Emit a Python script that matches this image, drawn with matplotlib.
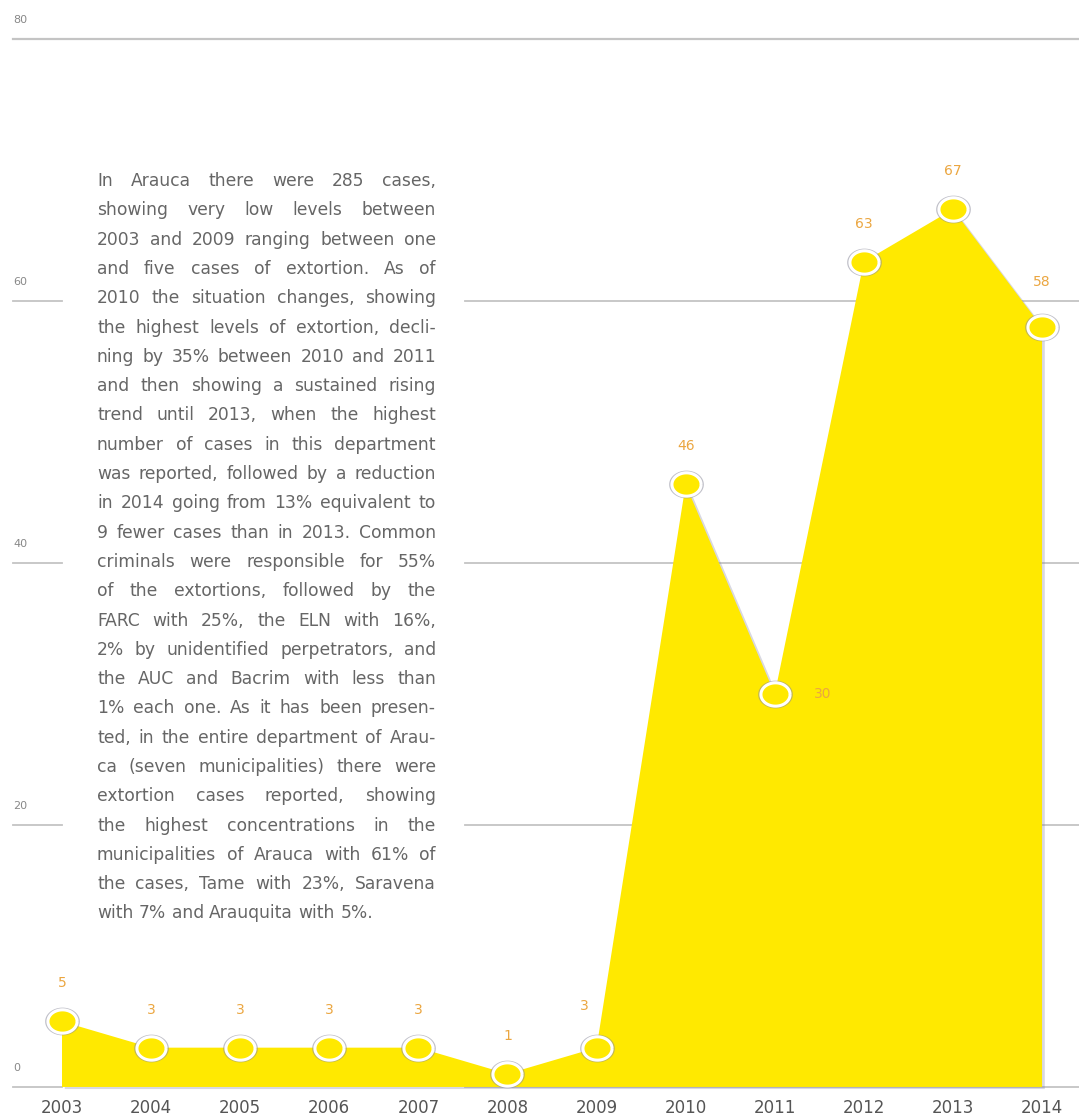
import numpy as np
import matplotlib
matplotlib.use("Agg")
import matplotlib.pyplot as plt
import matplotlib.patheffects as pe
from matplotlib.path import Path
from matplotlib.font_manager import FontProperties

# ---------------- data ----------------
years = [2003, 2004, 2005, 2006, 2007, 2008, 2009, 2010, 2011, 2012, 2013, 2014]
cases = [5, 3, 3, 3, 3, 1, 3, 46, 30, 63, 67, 58]
y_ticks = [0, 20, 40, 60, 80]

paragraph = [
    "In Arauca there were 285 cases,",
    "showing very low levels between",
    "2003 and 2009 ranging between one",
    "and five cases of extortion.  As of",
    "2010 the situation changes, showing",
    "the highest levels of extortion, decli-",
    "ning by 35% between 2010 and 2011",
    "and then showing a sustained rising",
    "trend until 2013, when the highest",
    "number of cases in this department",
    "was reported, followed by a reduction",
    "in 2014 going from 13% equivalent to",
    "9 fewer cases than in 2013. Common",
    "criminals were responsible for 55%",
    "of the extortions, followed by the",
    "FARC with 25%, the ELN with 16%,",
    "2% by unidentified perpetrators, and",
    "the AUC and Bacrim with less than",
    "1% each one.  As it has been presen-",
    "ted, in the entire department of Arau-",
    "ca (seven municipalities) there were",
    "extortion cases reported, showing",
    "the highest concentrations in the",
    "municipalities of Arauca with 61% of",
    "the cases, Tame with 23%, Saravena",
    "with 7% and Arauquita with 5%.",
]

# label offsets in pixels (dx, dy) -- default is straight above
label_offsets = {2009: (-12, 42), 2011: (48, 0), 2014: (0, 45)}

# ---------------- figure ----------------
W, H = 1079, 1118
fig = plt.figure(figsize=(W / 100, H / 100), dpi=100)
ax = fig.add_axes([0, 0, 1, 1])
ax.set_xlim(2002.304, 2014.415)
ax.set_ylim(-2.37, 82.98)
ax.axis("off")

YELLOW = "#ffe900"
GRID = "#c4c4c4"
LABEL = "#eba640"
GREY = "#666666"

# gridlines: broken around the paragraph, except the top one
for v in y_ticks:
    if v == 80:
        ax.plot([2002.45, 2014.415], [v, v], color=GRID, lw=1.6, zorder=1)
    else:
        ax.plot([2002.45, 2003.0], [v, v], color=GRID, lw=1.3, zorder=1)
        ax.plot([2007.52, 2014.415], [v, v], color=GRID, lw=1.3, zorder=1)
    ax.text(2002.45, v + 1.45, str(v), fontsize=8, color="#888888",
            ha="left", va="center")

# filled area
xs = [years[0]] + years + [years[-1]]
ys = [0] + cases + [0]
ax.fill(xs, ys, color=YELLOW, zorder=2, lw=0,
        path_effects=[pe.SimplePatchShadow(offset=(2, -1.5), shadow_rgbFace="#8080a0", alpha=0.3),
                      pe.Normal()])

# elliptic marker
t = np.linspace(0, 2 * np.pi, 60)
ell = Path(np.column_stack([np.cos(t), 0.8 * np.sin(t)]))

ax.plot(years, cases, ls="none", marker=ell, markersize=25, markerfacecolor="#8c8c9c",
        markeredgecolor="none", alpha=0.55, zorder=3)
ax.plot(years, cases, ls="none", marker=ell, markersize=21, markerfacecolor=YELLOW,
        markeredgecolor="white", markeredgewidth=2.2, zorder=4)

# value labels
for yr, val in zip(years, cases):
    dx, dy = label_offsets.get(yr, (0, 38))
    ax.annotate(str(val), (yr, val), xytext=(dx * 0.72, dy * 0.72), textcoords="offset points",
                ha="center", va="center", fontsize=10, color=LABEL, zorder=5)

# year labels
for yr in years:
    ax.text(yr, -1.6, str(yr), ha="center", va="center", fontsize=12, color="#555555")

# justified paragraph
fp = FontProperties(family="DejaVu Sans", size=12.3)
renderer = fig.canvas.get_renderer()
left, right = 97, 436
top, step = 181, 29.3
space_w = renderer.get_text_width_height_descent(" ", fp, ismath=False)[0]

for i, line in enumerate(paragraph):
    y = top + i * step
    words = line.split()
    widths = [renderer.get_text_width_height_descent(w, fp, ismath=False)[0] for w in words]
    if i == len(paragraph) - 1 or len(words) == 1:
        gap = space_w
    else:
        gap = (right - left - sum(widths)) / (len(words) - 1)
    x = left
    for w, wd in zip(words, widths):
        fig.text(x / W, 1 - y / H, w, fontproperties=fp, color=GREY, ha="left", va="center")
        x += wd + gap

fig.savefig("out.png", dpi=100)
